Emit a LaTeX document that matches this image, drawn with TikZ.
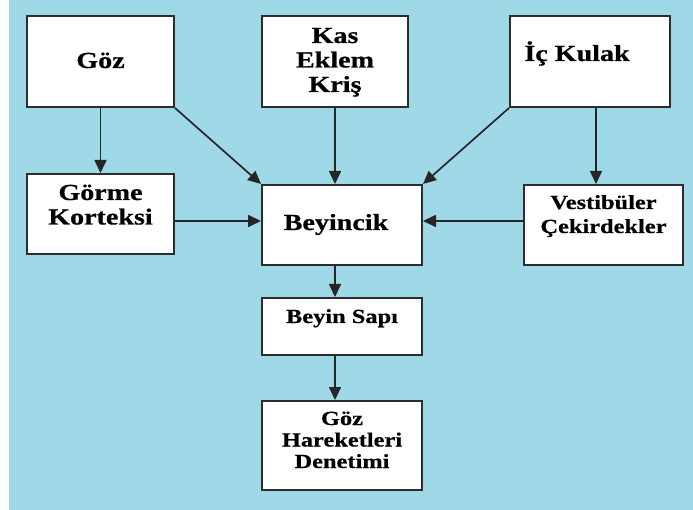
\documentclass[tikz,border=0pt]{standalone}
\usepackage{fontspec}
\newfontfamily\trf{Liberation Serif}[FakeStretch=1.22,BoldFeatures={FakeBold=0.6}]
\usetikzlibrary{arrows.meta}
\definecolor{bgblue}{RGB}{159,217,232}
\definecolor{boxedge}{RGB}{45,45,45}
\begin{document}
\begin{tikzpicture}[x=1pt,y=-1pt,
  blok/.style={draw=boxedge,line width=2pt,fill=white,inner sep=0pt,anchor=base},
  big/.style={font=\trf\bfseries\fontsize{23}{24.5}\selectfont},
  small/.style={font=\trf\bfseries\fontsize{20}{24}\selectfont},
  tiny/.style={font=\trf\bfseries\fontsize{20}{21.5}\selectfont},
  arr/.style={draw=black!85,line width=1.7pt,-{Triangle[length=13pt,width=12pt]}}]
\fill[white] (0,0) rectangle (693,510);
\fill[bgblue] (9,0) rectangle (693,510);
\useasboundingbox (0,0) rectangle (693,510);

\node[blok,big,minimum width=147pt,text height=52pt,text depth=39pt] (goz) at (100.5,68) {Göz};
\node[blok,big,minimum width=146pt,text height=27pt,text depth=64pt] (kas) at (335,43)
  {\begin{tabular}[t]{@{}c@{}}Kas\\Eklem\\Kriş\end{tabular}};
\node[blok,big,minimum width=160pt,text height=45pt,text depth=46pt] (ic) at (590,61) {İç Kulak\hspace*{26pt}};
\node[blok,big,minimum width=147pt,text height=26pt,text depth=54pt] (gorme) at (100.5,200)
  {\begin{tabular}[t]{@{}c@{}}Görme\\Korteksi\end{tabular}};
\node[blok,big,minimum width=160pt,text height=45pt,text depth=35pt] (beyincik) at (342,230) {Beyincik\hspace*{12pt}};
\node[blok,small,minimum width=159pt,text height=24pt,text depth=56pt] (vest) at (603.5,209)
  {\begin{tabular}[t]{@{}c@{}}Vestibüler\\Çekirdekler\end{tabular}};
\node[blok,small,minimum width=160pt,text height=25pt,text depth=32pt] (sap) at (342,323) {Beyin Sapı};
\node[blok,tiny,minimum width=160pt,text height=24pt,text depth=65pt] (ghd) at (342,425)
  {\begin{tabular}[t]{@{}c@{}}Göz\\Hareketleri\\Denetimi\end{tabular}};

\coordinate (hy) at (0,221);
\draw[arr] (goz.south) -- (gorme.north);
\draw[arr] (goz.south east) -- (beyincik.north west);
\draw[arr] (kas.south) -- (kas.south |- beyincik.north);
\draw[arr] (ic.south west) -- (beyincik.north east);
\draw[arr] ([xshift=6pt]ic.south) -- ([xshift=6pt]ic.south |- vest.north);
\draw[arr] (gorme.east |- hy) -- (beyincik.west |- hy);
\draw[arr] (vest.west |- hy) -- (beyincik.east |- hy);
\draw[arr] (beyincik.south -| kas.south) -- (sap.north -| kas.south);
\draw[arr] (sap.south -| kas.south) -- (ghd.north -| kas.south);
\end{tikzpicture}
\end{document}
